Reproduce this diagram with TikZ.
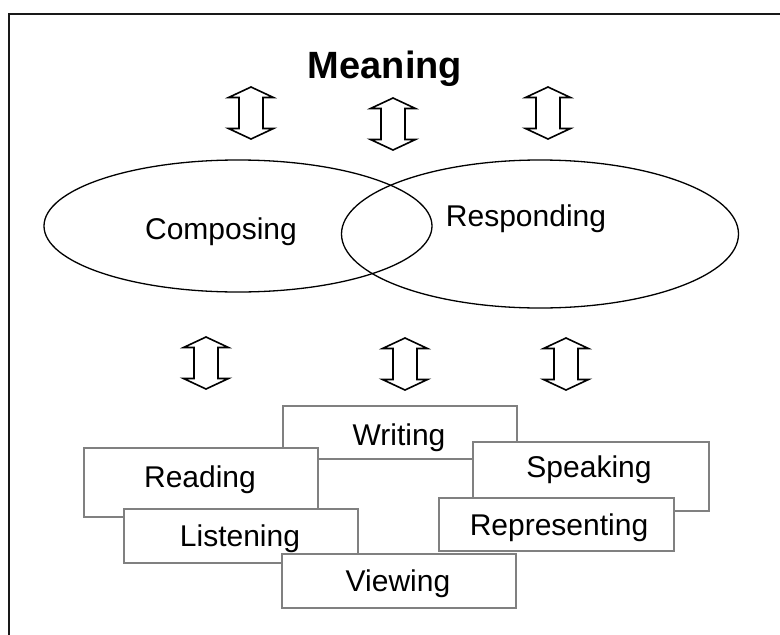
\documentclass[tikz,border=0pt]{standalone}
\usepackage{fontspec}
\setmainfont{Liberation Sans}
\usetikzlibrary{shapes.geometric}
\begin{document}
\begin{tikzpicture}[x=1pt,y=-1pt,
  frame/.style={draw=black!90, line width=2pt},
  loop/.style={ellipse, draw=black, line width=1.3pt, inner sep=0pt},
  skill/.style={rectangle, draw=black!50, line width=1.6pt, fill=white, inner sep=0pt, anchor=north west},
  word/.style={font=\fontsize{30}{35}\selectfont, anchor=base, inner sep=0pt},
  title/.style={font=\bfseries\fontsize{38}{44}\selectfont, anchor=base, inner sep=0pt},
  updown/.pic={\draw[line width=1.6pt, line join=miter, fill=white]
      (0,-26) -- (22.5,-15.5) -- (12,-15.5) -- (12,15.5) -- (22.5,15.5) -- (0,26)
      -- (-22.5,15.5) -- (-12,15.5) -- (-12,-15.5) -- (-22.5,-15.5) -- cycle;}
]
\useasboundingbox (0,0) rectangle (780,635);
\begin{scope}
  \clip (0,0) rectangle (780,635);
  \draw[frame] (9,14) rectangle (800,660);
\end{scope}

% title
\node[title] (meaning) at (385,78) {Meaning};

% two-way arrows between meaning and the processes
\pic at (251,113) {updown};
\pic at (393,124) {updown};
\pic at (548,113) {updown};

% composing / responding
\node[loop, minimum width=388, minimum height=132] (composing) at (238,226) {};
\node[loop, minimum width=397, minimum height=148] (responding) at (540,234) {};
\node[word] (composingtext) at (221,239) {Composing};
\node[word] (respondingtext) at (526,226) {Responding};

% two-way arrows between the processes and the language modes
\pic at (206,363) {updown};
\pic at (405,364) {updown};
\pic at (566,364) {updown};

% language modes
\node[skill, minimum width=234, minimum height=53] (writing) at (282,405) {};
\node[word] at (399,445) {Writing};
\node[skill, minimum width=234, minimum height=69] (reading) at (83,447) {};
\node[word] at (200,487) {Reading};
\node[skill, minimum width=234, minimum height=54] (listening) at (123,508) {};
\node[word] at (240,546) {Listening};
\node[skill, minimum width=234, minimum height=54] (viewing) at (281,553) {};
\node[word] at (398,591) {Viewing};
\node[skill, minimum width=236, minimum height=69] (speaking) at (472,441) {};
\node[word] at (589,477) {Speaking};
\node[skill, minimum width=235, minimum height=53] (representing) at (438,497) {};
\node[word] at (559,535) {Representing};
\end{tikzpicture}
\end{document}
